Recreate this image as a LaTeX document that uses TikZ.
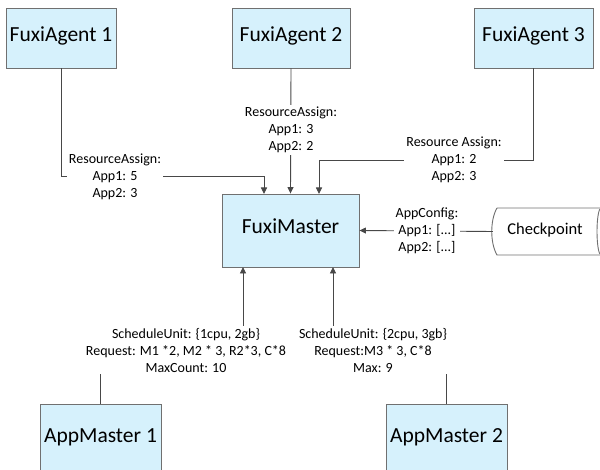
\documentclass[tikz,border=0pt]{standalone}
\usepackage{fontspec}
\setmainfont{Carlito}
\usetikzlibrary{arrows.meta}
\definecolor{boxfill}{RGB}{214,241,252}
\definecolor{boxline}{RGB}{112,112,112}
\definecolor{connline}{RGB}{72,72,72}
\begin{document}
\begin{tikzpicture}[x=1pt,y=-1pt,
  box/.style={draw=boxline,line width=0.9pt,fill=boxfill,inner sep=0pt,
    font=\fontsize{21.5}{25}\selectfont,text height=0.64em,text depth=0pt},
  conn/.style={draw=connline,line width=0.9pt},
  arr/.style={conn,-{Triangle[length=6.5pt,width=6pt]}},
  lbl/.style={fill=white,inner sep=2pt,align=center,
    font=\fontsize{14}{17}\selectfont}]
\useasboundingbox (0,0) rectangle (600,470);
\clip (0,0) rectangle (600,470);
% boxes
\node[box,minimum width=110pt,minimum height=60pt] (fa1) at (61,38) {FuxiAgent 1};
\node[box,minimum width=118pt,minimum height=60pt] (fa2) at (291,38) {FuxiAgent 2};
\node[box,minimum width=119pt,minimum height=60pt] (fa3) at (533.5,38) {FuxiAgent 3};
\node[box,minimum width=137pt,minimum height=73pt] (fm) at (290.5,230.5) {FuxiMaster};
\node[box,minimum width=121pt,minimum height=70pt] (am1) at (100.5,439) {AppMaster 1};
\node[box,minimum width=121pt,minimum height=70pt] (am2) at (446.5,439) {AppMaster 2};
% checkpoint cylinder
\draw[boxline,line width=0.9pt,fill=white] (497,208) -- (601,208) -- (601,255) -- (497,255)
  .. controls (490,243) and (490,220) .. (497,208);
\draw[boxline,line width=0.9pt] (601,231.5) ellipse [x radius=4pt, y radius=23.5pt];
\node[inner sep=0pt,minimum width=104pt,font=\fontsize{16.5}{20}\selectfont,
  text height=0.64em,text depth=0pt] (cp) at (545,231.5) {Checkpoint};
% connectors
\coordinate (in1) at (264,194);
\coordinate (in3) at (319,194);
\coordinate (out1) at (243,267);
\coordinate (out2) at (333,267);
\draw[arr] (fa1.south) |- (264,176) -- (in1);
\draw[arr] (fa2.south) -- (fm.north);
\draw[arr] (fa3.south) |- (319,160) -- (in3);
\draw[arr] (cp.west) -- (fm.east);
\draw[arr] (am1.north) |- (243,350) -- (out1);
\draw[arr] (am2.north) |- (333,350) -- (out2);
% labels
\node[lbl] (l1) at (115,177) {ResourceAssign:\\App1: 5\\App2: 3};
\node[lbl] (l2) at (291,130) {ResourceAssign:\\App1: 3\\App2: 2};
\node[lbl] (l3) at (454,160) {Resource Assign:\\App1: 2\\App2: 3};
\node[lbl] (l4) at (427,230.5) {AppConfig:\\App1: [...]\\App2: [...]};
\node[lbl] (l5) at (186,350) {ScheduleUnit: \{1cpu, 2gb\}\\Request: M1 *2, M2 * 3, R2*3, C*8\\MaxCount: 10};
\node[lbl] (l6) at (373,350) {ScheduleUnit: \{2cpu, 3gb\}\\Request:M3 * 3, C*8\\Max: 9};
\end{tikzpicture}
\end{document}
